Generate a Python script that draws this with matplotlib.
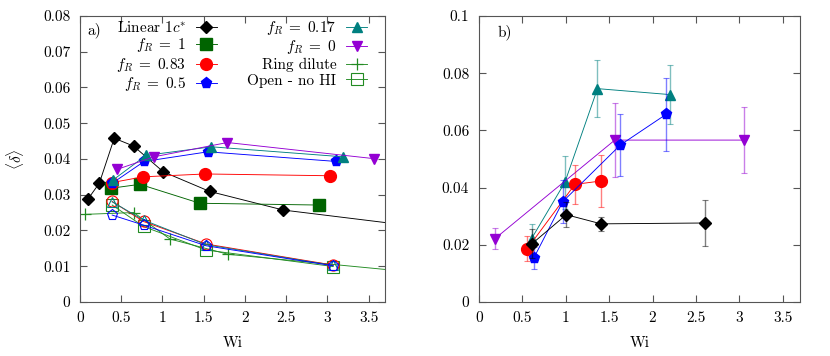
import matplotlib
matplotlib.use('Agg')
import matplotlib.pyplot as plt
from matplotlib.ticker import FuncFormatter

# ---- panel a) data ----
lin_wi = [0.097, 0.234, 0.415, 0.65, 1.01, 1.574, 2.466, 4.9]
lin_d = [0.0288, 0.0332, 0.0458, 0.0436, 0.0364, 0.0309, 0.0257, 0.0188]

f1_wi = [0.375, 0.726, 1.453, 2.90]
f1_d = [0.0318, 0.0329, 0.0276, 0.0271]

f083_wi = [0.39, 0.766, 1.52, 3.03]
f083_d = [0.0334, 0.0350, 0.0358, 0.0353]

f05_wi = [0.39, 0.778, 1.55, 3.107]
f05_d = [0.0332, 0.0393, 0.0420, 0.0393]

f017_wi = [0.40, 0.80, 1.594, 3.19]
f017_d = [0.0341, 0.0410, 0.0434, 0.0406]

f0_wi = [0.452, 0.896, 1.787, 3.56]
f0_d = [0.0371, 0.0406, 0.0446, 0.0401]

ring_wi = [0.064, 0.652, 1.09, 1.80, 4.5]
ring_d = [0.0245, 0.0250, 0.0176, 0.0133, 0.0073]

# open chains, no HI (hollow markers)
open_wi = [0.39, 0.77, 1.53, 3.07]
open_f083 = [0.0281, 0.0225, 0.0162, 0.0103]
open_f017 = [0.0280, 0.0229, 0.0160, 0.0102]
open_f05 = [0.0243, 0.0215, 0.0157, 0.0101]
open_f1 = [0.0271, 0.0211, 0.0145, 0.0099]

# ---- panel b) data ----
b_lin_wi = [0.614, 1.006, 1.408, 2.609]
b_lin_d = [0.0204, 0.0305, 0.0273, 0.0276]
b_lin_e = [0.0050, 0.0044, 0.0024, 0.0080]

b_f083_wi = [0.557, 1.105, 1.408]
b_f083_d = [0.0186, 0.0411, 0.0423]
b_f083_e = [0.0044, 0.0067, 0.0090]

b_f05_wi = [0.633, 0.967, 1.63, 2.156]
b_f05_d = [0.0154, 0.0351, 0.0549, 0.0656]
b_f05_e = [0.0038, 0.0076, 0.0110, 0.0127]

b_f017_wi = [0.606, 0.99, 1.366, 2.206]
b_f017_d = [0.0221, 0.0418, 0.0746, 0.0725]
b_f017_e = [0.0050, 0.0092, 0.0100, 0.0104]

b_f0_wi = [0.184, 1.565, 3.05]
b_f0_d = [0.0221, 0.0566, 0.0566]
b_f0_e = [0.0036, 0.0130, 0.0115]

plt.rcParams['font.family'] = 'serif'
plt.rcParams['font.serif'] = ['cmr10']
plt.rcParams['mathtext.fontset'] = 'cm'
plt.rcParams['axes.formatter.use_mathtext'] = True
plt.rcParams['font.size'] = 11

BLACK = 'black'
DGREEN = '#006400'
RED = '#ff0000'
BLUE = '#0000ff'
TEAL = '#008080'
PURPLE = '#9400d3'
GREEN = '#228b22'

fig = plt.figure(figsize=(8.3, 3.56), dpi=100)
ax1 = fig.add_axes([0.0964, 0.152, 0.3676, 0.803])
ax2 = fig.add_axes([0.577, 0.152, 0.387, 0.803])

lw = 0.65
ax1.plot(lin_wi, lin_d, '-D', color=BLACK, lw=lw, ms=6.5, label=r'Linear $1c^{*}$')
ax1.plot(f1_wi, f1_d, '-s', color=DGREEN, lw=lw, ms=8, label=r'$f_R\;=\;1$')
ax1.plot(f083_wi, f083_d, '-o', color=RED, lw=lw, ms=8.5, label=r'$f_R\;=\;0.83$')
ax1.plot(f05_wi, f05_d, '-p', color=BLUE, lw=lw, ms=8, label=r'$f_R\;=\;0.5$')
ax1.plot(f017_wi, f017_d, '-^', color=TEAL, lw=lw, ms=7.5, label=r'$f_R\;=\;0.17$')
ax1.plot(f0_wi, f0_d, '-v', color=PURPLE, lw=lw, ms=7.5, label=r'$f_R\;=\;0$')
ax1.plot(ring_wi, ring_d, '-+', color=GREEN, lw=lw, ms=9, mew=0.9, label='Ring dilute')
ax1.plot(open_wi, open_f1, '-s', color=GREEN, lw=lw, ms=8, mfc='none', mew=0.8,
         label='Open - no HI')
ax1.plot(open_wi, open_f083, '-o', color=RED, lw=lw, ms=8, mfc='none', mew=0.8)
ax1.plot(open_wi, open_f017, '-^', color=TEAL, lw=lw, ms=7.5, mfc='none', mew=0.8)
ax1.plot(open_wi, open_f05, '-p', color=BLUE, lw=lw, ms=8, mfc='none', mew=0.8)

ax1.set_xlim(0, 3.7)
ax1.set_ylim(0, 0.08)
ax1.set_xticks([0, 0.5, 1, 1.5, 2, 2.5, 3, 3.5])
ax1.set_yticks([0, 0.01, 0.02, 0.03, 0.04, 0.05, 0.06, 0.07, 0.08])
ax1.set_xlabel('Wi', labelpad=8)
ax1.set_ylabel(r'$\langle\delta\rangle$', labelpad=12)
ax1.text(0.024, 0.979, 'a)', transform=ax1.transAxes, ha='left', va='top')

ax1.legend(ncol=2, markerfirst=False, frameon=False, loc='upper right',
           bbox_to_anchor=(0.94, 0.99), handlelength=1.35, columnspacing=2.0,
           labelspacing=0.1, handletextpad=0.65, borderaxespad=0, borderpad=0)

ekw = dict(lw=lw, capsize=2.5, elinewidth=1.0, capthick=0.8)
for wi, d, e, c, m, ms in [
        (b_f017_wi, b_f017_d, b_f017_e, TEAL, '^', 7.5),
        (b_f0_wi, b_f0_d, b_f0_e, PURPLE, 'v', 7.5),
        (b_f083_wi, b_f083_d, b_f083_e, RED, 'o', 8.5),
        (b_f05_wi, b_f05_d, b_f05_e, BLUE, 'p', 8),
        (b_lin_wi, b_lin_d, b_lin_e, BLACK, 'D', 6.5)]:
    ax2.errorbar(wi, d, yerr=e, fmt='none', ecolor=c, alpha=0.5, **ekw)
    ax2.plot(wi, d, '-' + m, color=c, lw=lw, ms=ms)

ax2.set_xlim(0, 3.7)
ax2.set_ylim(0, 0.1)
ax2.set_xticks([0, 0.5, 1, 1.5, 2, 2.5, 3, 3.5])
ax2.set_yticks([0, 0.02, 0.04, 0.06, 0.08, 0.1])
ax2.set_xlabel('Wi', labelpad=8)
ax2.text(0.058, 0.972, 'b)', transform=ax2.transAxes, ha='left', va='top')

fmt = FuncFormatter(lambda v, p: '%g' % v)
for ax in (ax1, ax2):
    ax.xaxis.set_major_formatter(fmt)
    ax.yaxis.set_major_formatter(fmt)
    ax.tick_params(direction='in', top=True, right=True, length=5, width=0.8,
                   color='#555555', labelsize=11, pad=7)
    for s in ax.spines.values():
        s.set_color('#555555')
        s.set_linewidth(0.8)

fig.savefig('out.png', dpi=100)
